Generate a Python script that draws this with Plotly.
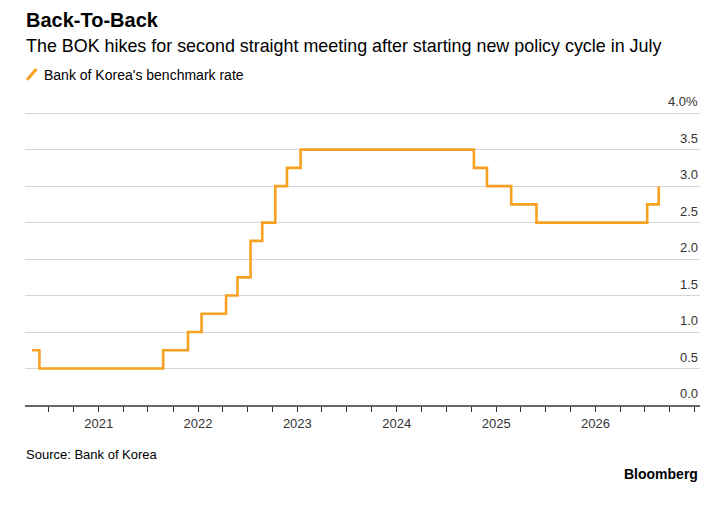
import plotly.graph_objects as go

dates = ["2020-05-01","2020-05-28","2021-08-26","2021-11-25","2022-01-14","2022-04-14","2022-05-26",
         "2022-07-13","2022-08-25","2022-10-12","2022-11-24","2023-01-13","2024-10-11","2024-11-28",
         "2025-02-25","2025-05-29","2026-07-10","2026-08-21"]
rates = [0.75,0.5,0.75,1.0,1.25,1.5,1.75,2.25,2.5,3.0,3.25,3.5,3.25,3.0,2.75,2.5,2.75,3.0]
year_ticks = ["2021-01-01","2022-01-01","2023-01-01","2024-01-01","2025-01-01","2026-01-01"]
year_labels = ["2021","2022","2023","2024","2025","2026"]
ytick_vals = [0.0,0.5,1.0,1.5,2.0,2.5,3.0,3.5,4.0]
ytick_text = ["0.0","0.5","1.0","1.5","2.0","2.5","3.0","3.5","4.0%"]

ORANGE = "#f7a122"
fig = go.Figure()
fig.add_trace(go.Scatter(x=dates, y=rates, mode="lines", line=dict(color=ORANGE, width=2.6, shape="hv"),
                         showlegend=False, hoverinfo="skip"))

fig.update_layout(
    width=725, height=505, margin=dict(l=17, r=33, t=103, b=108, autoexpand=False),
    paper_bgcolor="white", plot_bgcolor="white",
    font=dict(family="Liberation Sans, Arial", color="#000"),
    xaxis=dict(type="date", range=["2020-04-05", "2027-01-20"], tickvals=year_ticks, ticktext=year_labels,
               ticks="outside", ticklen=5, tickcolor="#333", tickwidth=1, automargin=False,
               minor=dict(dtick="M3", tick0="2021-01-01", ticks="outside", ticklen=5, tickcolor="#333"),
               showgrid=False, showline=True, linecolor="#666", linewidth=2,
               tickfont=dict(size=13, color="#333"), fixedrange=True),
    yaxis=dict(range=[0, 4.03], tickvals=ytick_vals[1:], showticklabels=False, showgrid=True,
               gridcolor="#d6d6d6", gridwidth=1, zeroline=False, fixedrange=True, automargin=False),
)
for v, t in zip(ytick_vals, ytick_text):
    fig.add_annotation(x=1, xref="paper", y=v, yref="y", text=t, showarrow=False,
                       xanchor="right", yanchor="bottom", yshift=2, font=dict(size=13, color="#333"))

fig.add_annotation(xref="paper", yref="paper", x=-0.002, y=1.31, xanchor="left", yanchor="middle",
                   text="<b>Back-To-Back</b>", showarrow=False, font=dict(size=20, color="#000"))
fig.add_annotation(xref="paper", yref="paper", x=-0.002, y=1.222, xanchor="left", yanchor="middle",
                   text="The BOK hikes for second straight meeting after starting new policy cycle in July",
                   showarrow=False, font=dict(size=17.9, color="#000"))
fig.add_annotation(xref="paper", yref="paper", x=0.025, y=1.123, xanchor="left", yanchor="middle",
                   text="Bank of Korea's benchmark rate", showarrow=False, font=dict(size=14, color="#000"))
fig.add_shape(type="line", xref="paper", yref="paper", x0=0.003, y0=1.106, x1=0.017, y1=1.143,
              line=dict(color=ORANGE, width=3))
fig.add_annotation(xref="paper", yref="paper", x=-0.002, y=-0.17, xanchor="left", yanchor="middle",
                   text="Source: Bank of Korea", showarrow=False, font=dict(size=13, color="#000"))
fig.add_annotation(xref="paper", yref="paper", x=1.0, y=-0.235, xanchor="right", yanchor="middle",
                   text="<b>Bloomberg</b>", showarrow=False, font=dict(size=14, color="#000"))
fig.write_html("out.html")
